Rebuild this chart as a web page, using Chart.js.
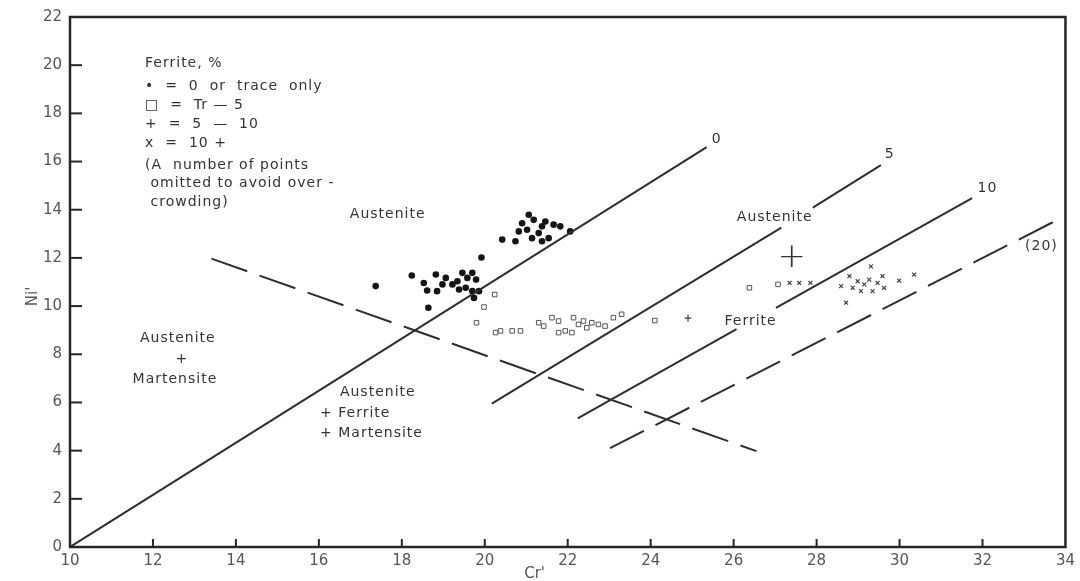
<!DOCTYPE html>
<html>
<head>
<meta charset="utf-8">
<script src="https://cdn.jsdelivr.net/npm/chart.js@4"></script>
<style>
  html, body { margin: 0; padding: 0; background: #fff; }
  #wrap { width: 1080px; height: 581px; position: relative; }
</style>
</head>
<body>
<div id="wrap"><canvas id="chart"></canvas></div>
<script>
// -------------------------
// Data (Cr', Ni')
// -------------------------
const xTicks = [10, 12, 14, 16, 18, 20, 22, 24, 26, 28, 30, 32, 34];
const yTicks = [0, 2, 4, 6, 8, 10, 12, 14, 16, 18, 20, 22];

// ferrite 0 or trace only
const ferriteZero = [
  [17.37, 10.83], [18.24, 11.27], [18.82, 11.31], [18.53, 10.96], [18.61, 10.65],
  [18.85, 10.62], [18.64, 9.93], [19.06, 11.17], [18.98, 10.9], [19.22, 10.9],
  [19.34, 11.03], [19.46, 11.38], [19.58, 11.17], [19.7, 11.38], [19.38, 10.69],
  [19.54, 10.76], [19.79, 11.1], [19.7, 10.62], [19.86, 10.62], [19.74, 10.34],
  [19.92, 12.02],
  [20.42, 12.76], [20.74, 12.69], [20.82, 13.1], [20.9, 13.44], [21.06, 13.79],
  [21.18, 13.58], [21.02, 13.17], [21.14, 12.82], [21.3, 13.03], [21.38, 13.31],
  [21.46, 13.51], [21.54, 12.82], [21.66, 13.38], [21.82, 13.31], [21.38, 12.69],
  [22.06, 13.1]
];

// ferrite Tr - 5
const ferriteTr5 = [
  [20.24, 10.48], [19.98, 9.96], [19.8, 9.31], [20.26, 8.9], [20.38, 8.97],
  [20.66, 8.97], [20.86, 8.97], [21.3, 9.31], [21.42, 9.17], [21.62, 9.52],
  [21.78, 9.38], [21.78, 8.9], [21.94, 8.97], [22.1, 8.9], [22.14, 9.52],
  [22.26, 9.24], [22.38, 9.38], [22.46, 9.1], [22.58, 9.31], [22.74, 9.24],
  [22.9, 9.17], [23.1, 9.52], [23.3, 9.66], [24.1, 9.4], [26.38, 10.76],
  [27.07, 10.9]
];

// ferrite 5 - 10
const ferrite5to10 = [
  [24.9, 9.5]
];

// ferrite 10+
const ferriteOver10 = [
  [27.35, 10.96], [27.58, 10.96], [27.85, 10.96],
  [28.59, 10.83], [28.71, 10.14], [28.79, 11.24], [28.87, 10.76], [28.99, 11.03],
  [29.07, 10.62], [29.15, 10.9], [29.27, 11.1], [29.31, 11.65], [29.35, 10.62],
  [29.47, 10.96], [29.59, 11.24], [29.63, 10.76], [29.99, 11.06], [30.35, 11.31]
];

// iso-ferrite lines (null = gap for a label)
const line0 = [[10, 0], [25.35, 16.6]];
const line5 = [[20.17, 5.95], [27.15, 13.26], [27.5, null], [27.91, 14.09], [29.55, 15.85]];
const line10 = [[22.24, 5.34], [26.07, 9.04], [26.5, null], [27.02, 9.93], [31.75, 14.48]];
const line20 = [[23.02, 4.1], [33.92, 13.68]];
const martensiteLine = [[13.41, 11.97], [26.55, 3.98]];

// text placed on the diagram: [text, Cr', Ni', align]
const regionLabels = [
  ["Austenite", 17.66, 13.8, "center"],
  ["Austenite", 26.99, 13.68, "center"],
  ["Ferrite", 26.41, 9.38, "center"],
  ["Austenite", 12.6, 8.68, "center"],
  ["+", 12.7, 7.8, "center"],
  ["Martensite", 12.53, 6.94, "center"],
  ["Austenite", 17.42, 6.4, "center"],
  ["+ Ferrite", 16.03, 5.54, "left"],
  ["+ Martensite", 16.03, 4.71, "left"],
  ["0", 25.59, 16.94, "center"],
  ["5", 29.76, 16.28, "center"],
  ["10", 32.12, 14.88, "center"],
  ["(20)", 33.42, 12.48, "center"]
];

const legendLines = [
  ["Ferrite, %", 20.08],
  ["\u2022  =  0  or  trace  only", 19.13],
  ["\u25A1  =  Tr \u2014 5", 18.35],
  ["+  =  5  \u2014  10", 17.56],
  ["x  =  10 +", 16.74],
  ["(A  number of points", 15.83],
  [" omitted to avoid over -", 15.08],
  [" crowding)", 14.3]
];
const legendX = 11.81;

// -------------------------
// Helpers
// -------------------------
const toXY = arr => arr.map(([x, y]) => ({ x, y }));

function boundary(data, dashed) {
  return {
    type: "line",
    data: toXY(data),
    borderColor: "#2e2e2e",
    borderWidth: 2,
    borderDash: dashed ? [38, 13] : [],
    pointRadius: 0,
    showLine: true,
    spanGaps: false,
    tension: 0,
  };
}

// -------------------------
// Frame, inward ticks and text
// -------------------------
const diagramExtras = {
  id: "diagramExtras",
  afterDraw(chart) {
    const { ctx, chartArea: a, scales: { x, y } } = chart;
    ctx.save();

    ctx.strokeStyle = "#262626";
    ctx.lineWidth = 2.5;
    ctx.strokeRect(a.left, a.top, a.right - a.left, a.bottom - a.top);

    ctx.lineWidth = 2;
    yTicks.slice(1, -1).forEach(v => {
      const py = y.getPixelForValue(v);
      ctx.beginPath();
      ctx.moveTo(a.left, py);
      ctx.lineTo(a.left + 12, py);
      ctx.stroke();
    });
    xTicks.slice(1, -1).forEach(v => {
      const px = x.getPixelForValue(v);
      ctx.beginPath();
      ctx.moveTo(px, a.bottom);
      ctx.lineTo(px, a.bottom - 8);
      ctx.stroke();
    });

    ctx.fillStyle = "#333";
    ctx.textBaseline = "middle";
    ctx.font = "14px 'DejaVu Sans'";
    ctx.letterSpacing = "1px";

    regionLabels.forEach(([t, cx, cy, align]) => {
      ctx.textAlign = align;
      ctx.fillText(t, x.getPixelForValue(cx), y.getPixelForValue(cy));
    });

    ctx.textAlign = "left";
    legendLines.forEach(([t, cy]) => {
      ctx.fillText(t, x.getPixelForValue(legendX), y.getPixelForValue(cy));
    });

    // big "+" between Austenite and Ferrite
    ctx.letterSpacing = "0px";
    ctx.font = "300 34px 'DejaVu Sans'";
    ctx.textAlign = "center";
    ctx.fillText("+", x.getPixelForValue(27.4), y.getPixelForValue(11.98));

    // axis titles
    ctx.font = "15px 'DejaVu Sans'";
    ctx.fillStyle = "#555";
    ctx.fillText("Cr'", x.getPixelForValue(21.2), 574);
    ctx.translate(33, y.getPixelForValue(10.4));
    ctx.rotate(-Math.PI / 2);
    ctx.fillText("Ni'", 0, 0);

    ctx.restore();
  },
};

// -------------------------
// Chart
// -------------------------
new Chart(document.getElementById("chart"), {
  type: "scatter",
  data: {
    datasets: [
      boundary(line0, false),
      boundary(line5, false),
      boundary(line10, false),
      boundary(line20, true),
      boundary(martensiteLine, true),
      {
        label: "0 or trace only",
        data: toXY(ferriteZero),
        pointStyle: "circle",
        pointRadius: 3.3,
        backgroundColor: "#151515",
        borderColor: "#151515",
        borderWidth: 0,
      },
      {
        label: "Tr - 5",
        data: toXY(ferriteTr5),
        pointStyle: "rect",
        pointRadius: 3.2,
        backgroundColor: "#fff",
        borderColor: "#555",
        borderWidth: 1,
      },
      {
        label: "5 - 10",
        data: toXY(ferrite5to10),
        pointStyle: "cross",
        pointRadius: 3.5,
        borderColor: "#444",
        borderWidth: 1.3,
      },
      {
        label: "10+",
        data: toXY(ferriteOver10),
        pointStyle: "crossRot",
        pointRadius: 2.8,
        borderColor: "#444",
        borderWidth: 1.2,
      },
    ],
  },
  options: {
    responsive: true,
    maintainAspectRatio: false,
    animation: false,
    layout: { padding: { top: 15, right: 14, left: 0, bottom: 0 } },
    plugins: { legend: { display: false }, tooltip: { enabled: false } },
    scales: {
      x: {
        type: "linear",
        min: 10,
        max: 34,
        afterBuildTicks: s => { s.ticks = xTicks.map(v => ({ value: v })); },
        afterFit: s => { s.height = 34; },
        grid: { display: false, drawTicks: false },
        border: { display: false },
        ticks: { color: "#555", padding: 5, font: { family: "DejaVu Sans", size: 15 }, maxRotation: 0 },
      },
      y: {
        type: "linear",
        min: 0,
        max: 22,
        afterBuildTicks: s => { s.ticks = yTicks.map(v => ({ value: v })); },
        afterFit: s => { s.width = 70; },
        grid: { display: false, drawTicks: false },
        border: { display: false },
        ticks: { color: "#555", padding: 8, font: { family: "DejaVu Sans", size: 15 } },
      },
    },
  },
  plugins: [diagramExtras],
});
</script>
</body>
</html>
